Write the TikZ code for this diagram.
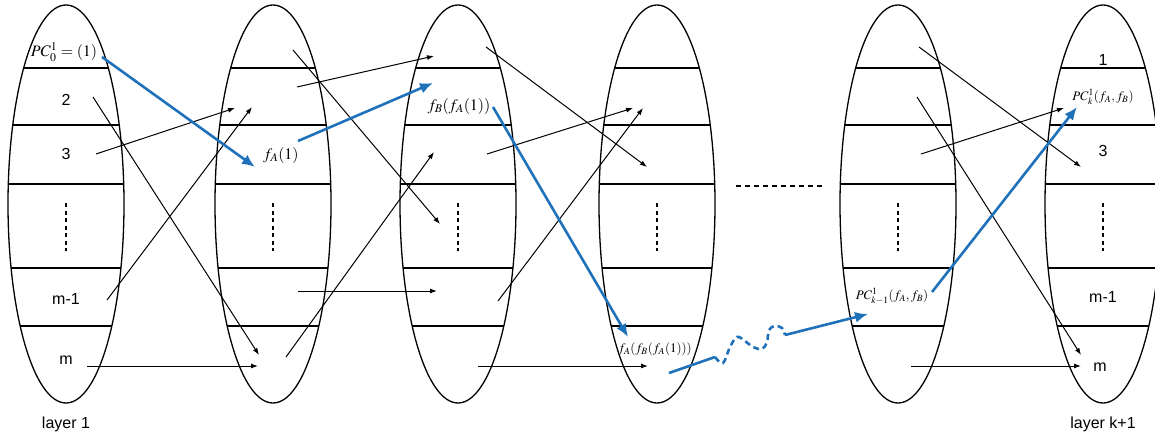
\documentclass[tikz,border=0pt]{standalone}
\usepackage[no-math]{fontspec}
\setmainfont{Liberation Sans}
\usepackage{mathptmx}
\setmainfont{Liberation Sans}
\usetikzlibrary{arrows.meta,shapes.geometric}
\definecolor{pblue}{RGB}{31,113,186}
\begin{document}
\begin{tikzpicture}[x=1pt,y=-1pt,
  layer/.style={draw, ellipse, minimum width=116pt, minimum height=398pt, inner sep=0pt, line width=1.3pt},
  cell/.style={line width=1.3pt},
  lbl/.style={font=\fontsize{16}{18}\selectfont, inner sep=0pt},
  mlbl/.style={font=\fontsize{16}{18}\selectfont, inner sep=0pt},
  slbl/.style={font=\fontsize{13}{15}\selectfont, inner sep=0pt},
  link/.style={line width=1pt, -{Latex[length=7pt,width=5pt]}},
  bpath/.style={draw=pblue, line width=2.6pt},
  barrow/.style={bpath, -{Latex[length=13pt,width=11pt]}},
  vdots/.style={line width=1.4pt, dash pattern=on 4pt off 3.5pt}]
\useasboundingbox (0,0) rectangle (1155,439);

% layers
\foreach \cx/\nm in {66/e1,273/e2,458/e3,657/e4,898/e5,1103/e6}{
  \node[layer] (\nm) at (\cx,204) {};
  \begin{scope}
    \clip (\cx,204) ellipse [x radius=58pt, y radius=199pt];
    \foreach \yy in {68,125,184,268,326}
      \draw[cell] (\cx-60,\yy) -- (\cx+60,\yy);
  \end{scope}
  \draw[vdots] (\cx,203) -- (\cx,251);
}

% labels
\node[mlbl] (pc0) at (64,52) {$PC_0^1=(1)$};
\node[lbl] (l12) at (66,100) {2};
\node[lbl] (l13) at (66,154) {3};
\node[lbl] (l1m1) at (66,299) {m-1};
\node[lbl] (l1m) at (66,360) {m};
\node[lbl] (lay1) at (66,424) {layer 1};

\node[mlbl] (fa) at (281,155) {$f_A(1)$};
\node[mlbl] (fbfa) at (459,106) {$f_B(f_A(1))$};
\node[slbl] (fafbfa) at (655,349) {$f_A(f_B(f_A(1)))$};
\node[slbl] (pck1) at (892,296) {$PC_{k-1}^1(f_A,f_B)$};
\node[slbl] (pck) at (1103,97) {$PC_k^1(f_A,f_B)$};

\node[lbl] (l61) at (1103,60) {1};
\node[lbl] (l63) at (1103,151) {3};
\node[lbl] (l6m1) at (1103,297) {m-1};
\node[lbl] (l6m) at (1100,367) {m};
\node[lbl] (layk) at (1103,424) {layer k+1};

% black connectors
\coordinate (a1s) at (93,97);   \coordinate (a1e) at (259,355);
\coordinate (a2s) at (96,154);  \coordinate (a2e) at (235,108);
\coordinate (a3s) at (107,300); \coordinate (a3e) at (252,107);
\coordinate (a4s) at (87,366);  \coordinate (a4e) at (258,366);
\coordinate (b1s) at (293,50);  \coordinate (b1e) at (440,224);
\coordinate (b2s) at (297,87);  \coordinate (b2e) at (434,56);
\coordinate (b3s) at (286,357); \coordinate (b3e) at (434,152);
\coordinate (b4s) at (298,291); \coordinate (b4e) at (437,291);
\coordinate (c1s) at (486,47);  \coordinate (c1e) at (647,167);
\coordinate (c2s) at (487,154); \coordinate (c2e) at (633,108);
\coordinate (c3s) at (498,301); \coordinate (c3e) at (643,108);
\coordinate (c4s) at (478,366); \coordinate (c4e) at (648,366);
\coordinate (d1s) at (919,47);  \coordinate (d1e) at (1081,167);
\coordinate (d2s) at (917,97);  \coordinate (d2e) at (1081,355);
\coordinate (d3s) at (921,154); \coordinate (d3e) at (1064,108);
\coordinate (d4s) at (911,366); \coordinate (d4e) at (1081,366);
\foreach \p in {a1,a2,a3,a4,b1,b2,b3,b4,c1,c2,c3,c4,d1,d2,d3,d4}
  \draw[link] (\p s) -- (\p e);

% dashed gap
\coordinate (gs) at (736,186); \coordinate (ge) at (825,186);
\draw[line width=1.4pt, dash pattern=on 5pt off 4pt] (gs) -- (ge);

% blue path
\coordinate (p1s) at (102,57);  \coordinate (p1e) at (255,167);
\coordinate (p2s) at (298,141); \coordinate (p2e) at (433,83);
\coordinate (p3s) at (493,107); \coordinate (p3e) at (628,337);
\coordinate (p4s) at (669,373); \coordinate (p4m) at (715,357);
\coordinate (p4n) at (785,335); \coordinate (p4e) at (868,314);
\coordinate (p5s) at (932,292); \coordinate (p5e) at (1077,107);
\draw[barrow] (p1s) -- (p1e);
\draw[barrow] (p2s) -- (p2e);
\draw[barrow] (p3s) -- (p3e);
\draw[bpath] (p4s) -- (p4m);
\draw[bpath, dash pattern=on 6pt off 4pt] plot[smooth, tension=0.6] coordinates
  {(715,357) (723,363) (730,347) (737,337) (745,341) (753,347) (762,349) (767,342) (769,330) (775,326) (782,328) (785,335)};
\draw[barrow] (p4n) -- (p4e);
\draw[barrow] (p5s) -- (p5e);
\end{tikzpicture}
\end{document}
